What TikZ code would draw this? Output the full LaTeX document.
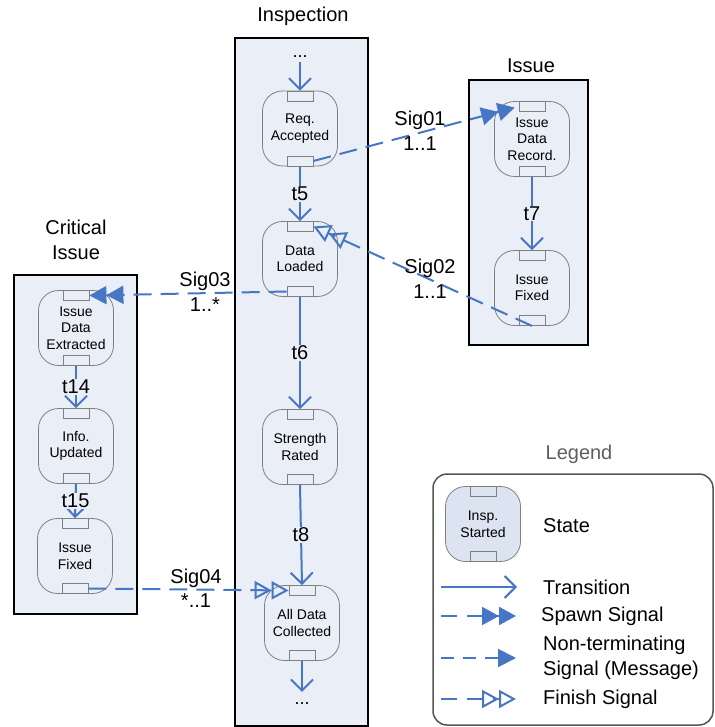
\documentclass[tikz,border=0pt]{standalone}
\usepackage{fontspec}
\setmainfont{Liberation Sans}
\usetikzlibrary{arrows.meta,calc}
\definecolor{flow}{RGB}{70,118,196}
\definecolor{lanefill}{RGB}{233,238,247}
\definecolor{statefill}{RGB}{220,228,241}
\definecolor{stateline}{RGB}{128,128,128}
\definecolor{legline}{RGB}{85,85,85}
\definecolor{legtitle}{RGB}{95,95,95}
\newcommand\mystate[4][lanefill]{%
  \node[statebox,fill=#1] (#2) at (#3) {#4};
  \node[port,fill=#1,anchor=north] (#2-t) at (#2.north) {};
  \node[port,fill=#1,anchor=south] (#2-b) at (#2.south) {};}
\begin{document}
\begin{tikzpicture}[x=1pt,y=-1pt,
  lane/.style={draw=black,line width=2pt,fill=lanefill},
  statebox/.style={draw=stateline,line width=0.8pt,rounded corners=20pt,minimum width=75pt,minimum height=75pt,align=center,font=\fontsize{14}{16.5}\selectfont,inner sep=0pt},
  port/.style={draw=stateline,line width=0.8pt,minimum width=26pt,minimum height=10pt,inner sep=0pt},
  big/.style={font=\fontsize{20}{24.5}\selectfont,align=center,inner sep=0pt},
  legtext/.style={font=\fontsize{20}{24.5}\selectfont,align=left,inner sep=0pt,anchor=west},
  tlabel/.style={font=\fontsize{20}{24}\selectfont,fill=lanefill,inner sep=1pt},
  trans/.style={draw=flow,line width=2pt,-{Straight Barb[length=11pt,width=22pt]}},
  spawn/.style={draw=flow,line width=2pt,dash pattern=on 18pt off 9pt,-{Triangle[length=17pt,width=18pt]Triangle[length=17pt,width=18pt]}},
  finish/.style={draw=flow,line width=2pt,dash pattern=on 18pt off 9pt,-{Triangle[open,length=17pt,width=18pt]Triangle[open,length=17pt,width=18pt]}},
  message/.style={draw=flow,line width=2pt,dash pattern=on 13pt off 9pt,-{Triangle[length=18pt,width=18pt]}},
  dots/.style={font=\fontsize{18}{20}\selectfont,inner sep=1pt}
]
\useasboundingbox (0,0) rectangle (714,727);

% lanes
\draw[lane] (235,38) rectangle (368,726);
\draw[lane] (469,80) rectangle (588,345);
\draw[lane] (14,275) rectangle (137,614);

% titles
\node[big] (tInsp) at (303,16) {Inspection};
\node[big] (tIssue) at (531,66) {Issue};
\node[big] (tCrit) at (76,240) {Critical\\Issue};

% Inspection states
\node[dots] (dtop) at (300,57) {...};
\mystate{rq}{300,128.5}{Req.\\Accepted}
\mystate{dl}{300,259}{Data\\Loaded}
\mystate{sr}{300,447}{Strength\\Rated}
\mystate{ad}{302,623}{All Data\\Collected}
\node[dots] (dbot) at (302,704) {...};

% Issue states
\mystate{rd}{532,139}{Issue\\Data\\Record.}
\mystate{if}{532,288}{Issue\\Fixed}

% Critical issue states
\mystate{ie}{76,328}{Issue\\Data\\Extracted}
\mystate{iu}{76,446}{Info.\\Updated}
\mystate{cf}{75,556}{Issue\\Fixed}

% transitions
\draw[trans,shorten <=3pt] (dtop.south) -- (rq-t.north);
\draw[trans] (rq-b.south) -- node[tlabel] (t5) {t5} (dl-t.north);
\draw[trans] (dl-b.south) -- node[tlabel] (t6) {t6} (sr-t.north);
\draw[trans] (sr-b.south) -- node[tlabel] (t8) {t8} (ad-t.north);
\draw[trans,shorten >=10pt] (ad-b.south) -- (dbot.north);
\draw[trans] (rd-b.south) -- node[tlabel] (t7) {t7} (if-t.north);
\draw[trans] (ie-b.south) -- node[tlabel] (t14) {t14} (iu-t.north);
\draw[trans] (iu-b.south) -- node[tlabel] (t15) {t15} (cf-t.north);

% signals
\draw[spawn,shorten >=4pt] (rq-b.east) -- (rd-t.west);
\node[big] (s1) at (420,131) {Sig01\\1..1};
\draw[finish] (if-b.south) -- (dl-t.east);
\node[big] (s2) at (430,279) {Sig02\\1..1};
\draw[spawn] (dl-b.west) -- (ie-t.east);
\node[big] (s3) at (205,292) {Sig03\\1..*};
\draw[finish] (cf-b.east) -- (ad-t.west);
\node[big] (s4) at (196,588) {Sig04\\*..1};

% legend
\node[big,text=legtitle] (legt) at (579,454) {Legend};
\draw[draw=legline,line width=1.5pt,fill=white,rounded corners=14pt] (433,474) rectangle (713,725);
\mystate[statefill]{ls}{483,524}{Insp.\\Started}
\node[legtext] (lState) at (543,526) {State};
\coordinate (a1) at (441,587); \coordinate (b1) at (517,587);
\draw[trans] (a1) -- (b1);
\node[legtext] (lTrans) at (543,587) {Transition};
\coordinate (a2) at (441,616); \coordinate (b2) at (516,616);
\draw[spawn,dash pattern=on 16pt off 10pt] (a2) -- (b2);
\node[legtext] (lSpawn) at (541,616) {Spawn Signal};
\coordinate (a3) at (441,658); \coordinate (b3) at (516,658);
\draw[message] (a3) -- (b3);
\node[legtext] (lMsg) at (543,658) {Non-terminating\\Signal (Message)};
\coordinate (a4) at (441,699); \coordinate (b4) at (516,699);
\draw[finish,dash pattern=on 16pt off 10pt] (a4) -- (b4);
\node[legtext] (lFin) at (543,699) {Finish Signal};
\end{tikzpicture}
\end{document}
